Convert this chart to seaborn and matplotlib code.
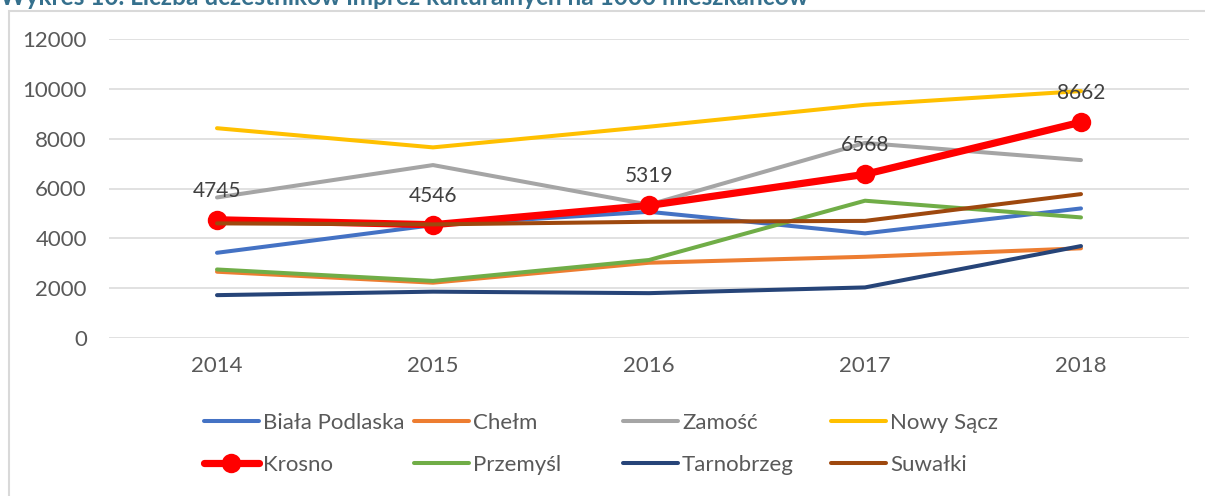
import matplotlib
matplotlib.use("Agg")
import matplotlib.pyplot as plt
from matplotlib.patches import Rectangle
import pandas as pd
import seaborn as sns

years = [2014, 2015, 2016, 2017, 2018]
biala_podlaska = [3420, 4530, 5065, 4200, 5200]
chelm = [2660, 2220, 3020, 3260, 3600]
zamosc = [5640, 6940, 5350, 7830, 7140]
nowy_sacz = [8420, 7650, 8480, 9360, 9910]
krosno = [4745, 4546, 5319, 6568, 8662]
przemysl = [2750, 2290, 3130, 5510, 4840]
tarnobrzeg = [1720, 1860, 1800, 2030, 3690]
suwalki = [4600, 4560, 4665, 4700, 5775]

series = [
    ("Biała Podlaska", biala_podlaska, "#4472C4"),
    ("Chełm", chelm, "#ED7D31"),
    ("Zamość", zamosc, "#A5A5A5"),
    ("Nowy Sącz", nowy_sacz, "#FFC000"),
    ("Krosno", krosno, "#FF0000"),
    ("Przemyśl", przemysl, "#70AD47"),
    ("Tarnobrzeg", tarnobrzeg, "#264478"),
    ("Suwałki", suwalki, "#9E480E"),
]

title = "Wykres 10. Liczba uczestników imprez kulturalnych na 1000 mieszkańców"

sns.set_theme(style="white")
plt.rcParams["font.family"] = ["Lato", "DejaVu Sans"]

W, H = 1205, 496
FS = 16
fig = plt.figure(figsize=(W / 100, H / 100), dpi=100)
ax = fig.add_axes([109 / W, 1 - 338 / H, (1189 - 109) / W, (338 - 39) / H])

for name, vals, col in series:
    df = pd.DataFrame({"rok": years, "wartosc": vals})
    if name == "Krosno":
        sns.lineplot(data=df, x="rok", y="wartosc", color=col, lw=5.2, marker="o",
                     markersize=14, markeredgewidth=0, label=name, ax=ax)
    else:
        sns.lineplot(data=df, x="rok", y="wartosc", color=col, lw=2.9,
                     label=name, ax=ax, solid_capstyle="round")

# etykiety danych dla Krosna
for x, v in zip(years, krosno):
    ax.annotate(str(v), (x, v), xytext=(0, 21), textcoords="offset points",
                ha="center", va="center", fontsize=15, color="#404040")

ax.set_xlim(2013.5, 2018.5)
ax.set_ylim(0, 12000)
ax.set_yticks(range(0, 12001, 2000))
ax.set_xticks(years)
ax.set_xlabel("")
ax.set_ylabel("")
ax.grid(axis="y", color="#D9D9D9", lw=1.1)
ax.grid(axis="x", visible=False)
ax.set_axisbelow(True)
for s in ax.spines.values():
    s.set_visible(False)
ax.tick_params(axis="y", length=0, pad=16, labelsize=FS, labelcolor="#595959")
ax.tick_params(axis="x", length=0, pad=13, labelsize=FS, labelcolor="#595959")

handles, labels = ax.get_legend_handles_labels()
ax.get_legend().remove()
col_x = [193, 403, 612, 820]
for i, cx in enumerate(col_x):
    fig.legend([handles[i], handles[i + 4]], [labels[i], labels[i + 4]],
               loc="center left", bbox_to_anchor=(cx / W, 1 - 444 / H),
               frameon=False, fontsize=FS, handlelength=2.45, handletextpad=0.2,
               borderpad=0, labelspacing=1.0, labelcolor="#595959")

# ramka obszaru wykresu (widoczna tylko góra i lewa strona)
fig.patches.append(Rectangle((9 / W, -0.2), 1.0, 1.2 - 11 / H, transform=fig.transFigure,
                             fill=False, edgecolor="#D9D9D9", lw=1.5, zorder=0))

fig.text(0.0, 1 - 5 / H, title, ha="left", va="baseline", fontsize=17.6,
         fontweight="bold", color="#35708D")

fig.savefig("out.png", dpi=100)
